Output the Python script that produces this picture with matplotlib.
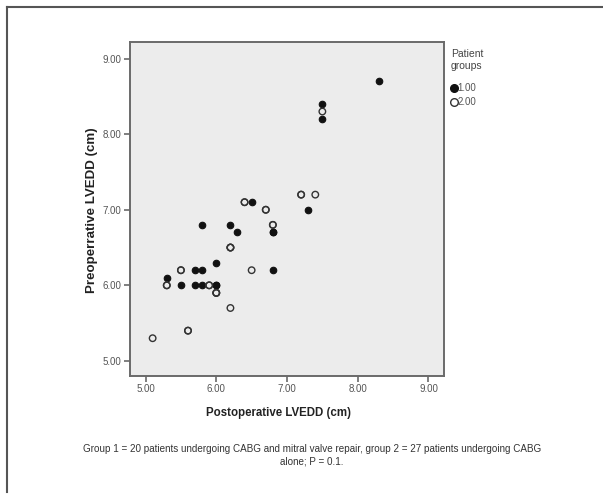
import matplotlib
matplotlib.use("Agg")
import matplotlib.pyplot as plt
from matplotlib.lines import Line2D

plt.rcParams['font.family'] = ['Liberation Sans', 'DejaVu Sans']

# Group 1: CABG + mitral valve repair
g1_post = [8.3, 7.5, 7.5, 7.3, 6.5, 6.8, 6.8, 5.8, 6.2, 6.3,
           5.3, 5.5, 5.7, 5.8, 5.7, 5.8, 6.0, 6.0, 6.0, 6.8]
g1_pre = [8.7, 8.4, 8.2, 7.0, 7.1, 6.7, 6.7, 6.8, 6.8, 6.7,
          6.1, 6.0, 6.2, 6.2, 6.0, 6.0, 6.3, 6.0, 6.0, 6.2]

# Group 2: CABG alone
g2_post = [7.5, 7.2, 7.4, 6.4, 6.4, 6.7, 6.8, 5.3, 5.5, 5.9,
           6.0, 6.0, 6.2, 6.2, 6.2, 6.5, 5.6, 5.6, 5.1, 5.3,
           5.5, 5.9, 6.2, 6.7, 7.2, 6.8, 6.0]
g2_pre = [8.3, 7.2, 7.2, 7.1, 7.1, 7.0, 6.8, 6.0, 6.2, 6.0,
          5.9, 5.9, 6.5, 6.5, 5.7, 6.2, 5.4, 5.4, 5.3, 6.0,
          6.2, 6.0, 6.5, 7.0, 7.2, 6.8, 5.9]

ticks = [5.0, 6.0, 7.0, 8.0, 9.0]
tick_labels = ["5.00", "6.00", "7.00", "8.00", "9.00"]
group_labels = ["1.00", "2.00"]

W, H = 603, 495
fig = plt.figure(figsize=(W / 100, H / 100), dpi=100)
fig.patch.set_facecolor("white")

# page border (left and top edges)
fig.add_artist(Line2D([7 / W, 7 / W], [1 - 7 / H, 1 - 492 / H],
                      transform=fig.transFigure, color="#555555", lw=1.5))
fig.add_artist(Line2D([7 / W, 1.0], [1 - 7 / H, 1 - 7 / H],
                      transform=fig.transFigure, color="#555555", lw=1.5))

ax = fig.add_axes([130 / W, 1 - 376 / H, (444 - 130) / W, (376 - 42) / H])
ax.set_facecolor("#ececec")
for s in ax.spines.values():
    s.set_color("#6a6a6a")
    s.set_linewidth(1.4)

ax.scatter(g1_post, g1_pre, s=22, facecolor="#111111", edgecolor="#111111",
           linewidths=0.8, zorder=3)
ax.scatter(g2_post, g2_pre, s=22, facecolor="none", edgecolor="#333333",
           linewidths=1.0, zorder=3)

ax.set_xlim(4.78, 9.22)
ax.set_ylim(4.80, 9.22)
ax.set_xticks(ticks)
ax.set_xticklabels(tick_labels)
ax.set_yticks(ticks)
ax.set_yticklabels(tick_labels)
ax.tick_params(direction="out", length=4, width=1.2, color="#6a6a6a",
               labelsize=7, labelcolor="#555555", pad=2)

fig.text(279 / W, 1 - 413 / H, "Postoperative LVEDD (cm)", ha="center",
         va="center", fontsize=8.3, fontweight="bold", color="#222222")
fig.text(92 / W, 1 - 210 / H, "Preoperrative LVEDD (cm)", ha="center",
         va="center", rotation=90, fontsize=9.6, fontweight="bold",
         color="#222222")

# legend: title and group entries
fig.text(451 / W, 1 - 60 / H, "Patient\ngroups", ha="left", va="center",
         fontsize=7.5, color="#444444", linespacing=1.35)
handles = [
    Line2D([], [], marker="o", ls="none", markersize=5.5,
           markerfacecolor="#111111", markeredgecolor="#111111"),
    Line2D([], [], marker="o", ls="none", markersize=5.5,
           markerfacecolor="none", markeredgecolor="#333333"),
]
leg = fig.legend(handles, group_labels,
                 loc="upper left", bbox_to_anchor=(451 / W, 1 - 83 / H),
                 frameon=False, fontsize=7, handlelength=0.6,
                 handletextpad=0.05, labelspacing=0.45, borderpad=0,
                 borderaxespad=0)
for t in leg.get_texts():
    t.set_color("#555555")

fig.text(312 / W, 1 - 455 / H,
         "Group 1 = 20 patients undergoing CABG and mitral valve repair, "
         "group 2 = 27 patients undergoing CABG\nalone; P = 0.1.",
         ha="center", va="center", fontsize=7.1, color="#333333",
         linespacing=1.3)

fig.savefig("out.png", dpi=100)
